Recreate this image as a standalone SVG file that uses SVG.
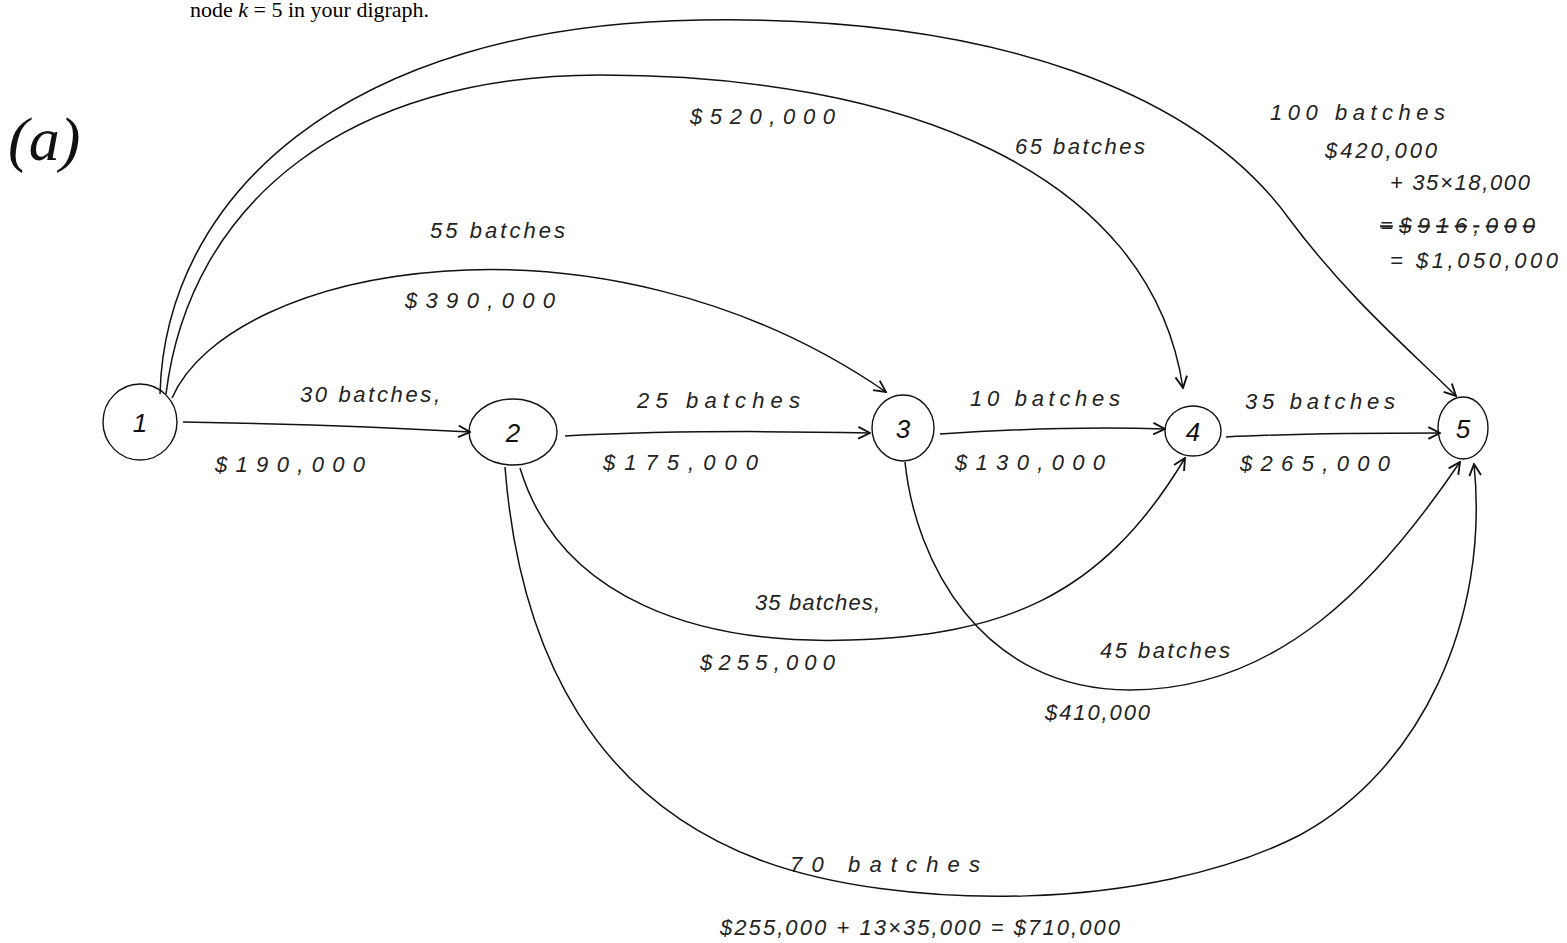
<svg xmlns="http://www.w3.org/2000/svg" width="1567" height="943" viewBox="0 0 1567 943">
<style>
.bg{fill:#ffffff}
.node{fill:none;stroke:#111;stroke-width:1.4}
.nl{font-family:"Liberation Sans",sans-serif;font-style:italic;font-size:26px;fill:#111;text-anchor:middle}
.edge{fill:none;stroke:#111;stroke-width:1.5}
.lbl{font-family:"Liberation Sans",sans-serif;font-style:italic;font-size:22px;fill:#222}
.hdr{font-family:"Liberation Serif",serif;font-size:22px;fill:#000}
</style>
<defs>
<marker id="ah" viewBox="0 0 12 12" refX="11" refY="6" markerWidth="14" markerHeight="14" markerUnits="userSpaceOnUse" orient="auto">
<path d="M1,1 L11,6 L1,11" fill="none" stroke="#111" stroke-width="1.6"/>
</marker>
</defs>
<rect class="bg" x="0" y="0" width="1567" height="943"/>
<text class="hdr" x="190" y="17">node <tspan font-style="italic">k</tspan> = 5 in your digraph.</text>
<text x="8" y="160" font-family="Liberation Serif,serif" font-style="italic" font-size="62" fill="#111">(a)</text>

<g id="connectors">
<path id="e12" class="edge" d="M183,422 C300,424 400,428 470,432" marker-end="url(#ah)"/>
<path id="e23" class="edge" d="M565,436 C680,430 780,431 870,433" marker-end="url(#ah)"/>
<path id="e34" class="edge" d="M940,434 C1030,428 1100,427 1165,429" marker-end="url(#ah)"/>
<path id="e45" class="edge" d="M1226,437 C1300,433 1380,433 1440,433" marker-end="url(#ah)"/>
<path id="e13" class="edge" d="M172,398 C230,265 600,195 886,392" marker-end="url(#ah)"/>
<path id="e14" class="edge" d="M166,394 C190,200 350,75 600,75 C900,75 1150,170 1183,388" marker-end="url(#ah)"/>
<path id="e15" class="edge" d="M160,394 C165,200 340,25 700,20 C1000,15 1200,95 1290,220 C1350,300 1410,350 1456,396" marker-end="url(#ah)"/>
<path id="e24" class="edge" d="M520,468 C560,600 700,645 850,640 C1000,635 1100,600 1185,458" marker-end="url(#ah)"/>
<path id="e35" class="edge" d="M905,462 C915,560 980,690 1130,690 C1280,690 1380,580 1460,462" marker-end="url(#ah)"/>
<path id="e25" class="edge" d="M505,467 C520,660 600,800 760,860 C900,912 1150,912 1300,835 C1420,770 1490,620 1474,464" marker-end="url(#ah)"/>
</g>

<g id="node1"><ellipse class="node" cx="140" cy="422" rx="37" ry="38"/><text class="nl" x="140" y="432">1</text></g>
<g id="node2"><ellipse class="node" cx="513" cy="432" rx="44" ry="33"/><text class="nl" x="513" y="442">2</text></g>
<g id="node3"><ellipse class="node" cx="903" cy="428" rx="31" ry="33"/><text class="nl" x="903" y="438">3</text></g>
<g id="node4"><ellipse class="node" cx="1193" cy="431" rx="28" ry="25"/><text class="nl" x="1193" y="441">4</text></g>
<g id="node5"><ellipse class="node" cx="1463" cy="428" rx="25" ry="31"/><text class="nl" x="1463" y="438">5</text></g>

<g id="labels">
<text class="lbl" x="300" y="402" textLength="140">30 batches,</text>
<text class="lbl" x="215" y="472" textLength="150">$190,000</text>
<text class="lbl" x="637" y="408" textLength="163">25 batches</text>
<text class="lbl" x="603" y="470" textLength="155">$175,000</text>
<text class="lbl" x="970" y="406" textLength="150">10 batches</text>
<text class="lbl" x="955" y="470" textLength="150">$130,000</text>
<text class="lbl" x="1245" y="409" textLength="150">35 batches</text>
<text class="lbl" x="1240" y="471" textLength="150">$265,000</text>
<text class="lbl" x="430" y="238" textLength="135">55 batches</text>
<text class="lbl" x="405" y="308" textLength="150">$390,000</text>
<text class="lbl" x="690" y="124" textLength="145">$520,000</text>
<text class="lbl" x="1015" y="154" textLength="130">65 batches</text>
<text class="lbl" x="1270" y="120" textLength="175">100 batches</text>
<text class="lbl" x="1325" y="158" textLength="112">$420,000</text>
<text class="lbl" x="1390" y="190" textLength="140">+ 35×18,000</text>
<text class="lbl" x="1380" y="233" textLength="155" text-decoration="line-through">=$916,000</text>
<text class="lbl" x="1390" y="268" textLength="168">= $1,050,000</text>
<text class="lbl" x="755" y="610" textLength="125">35 batches,</text>
<text class="lbl" x="700" y="670" textLength="135">$255,000</text>
<text class="lbl" x="1100" y="658" textLength="130">45 batches</text>
<text class="lbl" x="1045" y="720" textLength="105">$410,000</text>
<text class="lbl" x="790" y="872" textLength="190">70 batches</text>
<text class="lbl" x="720" y="935" textLength="400">$255,000 + 13×35,000 = $710,000</text>
</g>
</svg>
